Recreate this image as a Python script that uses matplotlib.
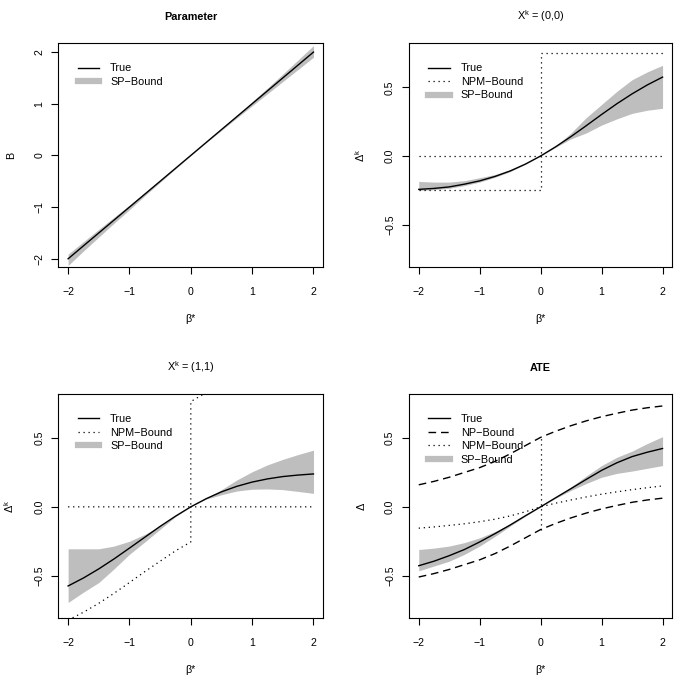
import matplotlib
matplotlib.use("Agg")
import matplotlib.pyplot as plt
from matplotlib.lines import Line2D

plt.rcParams['font.family'] = ['Liberation Sans', 'DejaVu Sans']
plt.rcParams['mathtext.fontset'] = 'custom'
plt.rcParams['mathtext.rm'] = 'Liberation Sans'

# grid of beta* values
beta = [-2, -1.75, -1.5, -1.25, -1, -0.75, -0.5, -0.25, 0,
        0.25, 0.5, 0.75, 1, 1.25, 1.5, 1.75, 2]
beta_neg = beta[:9]
beta_pos = beta[8:]

# panel 1: parameter
par_true = beta
par_sp_lo = [-2.13, -1.85, -1.58, -1.31, -1.05, -0.78, -0.52, -0.26, -0.005,
             0.245, 0.485, 0.725, 0.96, 1.195, 1.43, 1.665, 1.90]
par_sp_hi = [-1.91, -1.67, -1.43, -1.195, -0.96, -0.72, -0.48, -0.24, 0.005,
             0.255, 0.515, 0.775, 1.04, 1.305, 1.575, 1.85, 2.125]

# panel 2: X^k = (0,0)
d00_true = [-0.243, -0.236, -0.225, -0.205, -0.181, -0.149, -0.109, -0.059, 0,
            0.068, 0.142, 0.221, 0.302, 0.380, 0.452, 0.517, 0.574]
d00_sp_lo = [-0.25, -0.245, -0.235, -0.215, -0.19, -0.155, -0.114, -0.06, 0,
             0.064, 0.125, 0.168, 0.225, 0.27, 0.31, 0.333, 0.347]
d00_sp_hi = [-0.185, -0.19, -0.19, -0.18, -0.158, -0.135, -0.1, -0.054, 0,
             0.074, 0.168, 0.28, 0.375, 0.47, 0.555, 0.612, 0.66]
d00_npm_lo_neg = [-0.25] * 9
d00_npm_lo_pos = [0.0] * 9
d00_npm_hi_neg = [0.0] * 9
d00_npm_hi_pos = [0.75] * 9

# panel 3: X^k = (1,1)
d11_true = [-0.575, -0.517, -0.451, -0.378, -0.300, -0.221, -0.142, -0.068, 0,
            0.059, 0.109, 0.149, 0.180, 0.203, 0.220, 0.231, 0.239]
d11_sp_lo = [-0.695, -0.62, -0.55, -0.45, -0.345, -0.255, -0.163, -0.072, 0,
             0.056, 0.088, 0.115, 0.128, 0.13, 0.125, 0.112, 0.098]
d11_sp_hi = [-0.305, -0.305, -0.305, -0.285, -0.25, -0.2, -0.138, -0.065, 0,
             0.063, 0.125, 0.195, 0.255, 0.305, 0.345, 0.38, 0.412]
d11_npm_lo_neg = [-0.823, -0.766, -0.701, -0.628, -0.55, -0.471, -0.395, -0.32, -0.255]
d11_npm_lo_pos = [0.0] * 9
d11_npm_hi_neg = [0.0] * 9
d11_npm_hi_pos_x = [0, 0.25, 0.5]
d11_npm_hi_pos = [0.765, 0.83, 0.88]

# panel 4: ATE
ate_true = [-0.428, -0.395, -0.355, -0.31, -0.255, -0.195, -0.132, -0.065, 0,
            0.067, 0.133, 0.20, 0.265, 0.32, 0.365, 0.397, 0.424]
ate_sp_lo = [-0.465, -0.43, -0.395, -0.345, -0.285, -0.215, -0.14, -0.068, 0,
             0.063, 0.12, 0.17, 0.215, 0.243, 0.26, 0.28, 0.30]
ate_sp_hi = [-0.31, -0.30, -0.285, -0.26, -0.225, -0.18, -0.125, -0.062, 0,
             0.07, 0.145, 0.225, 0.30, 0.36, 0.405, 0.46, 0.51]
ate_np_hi = [0.16, 0.185, 0.215, 0.25, 0.285, 0.33, 0.385, 0.445, 0.505,
             0.55, 0.59, 0.625, 0.655, 0.68, 0.703, 0.72, 0.733]
ate_np_lo = [-0.51, -0.485, -0.455, -0.42, -0.385, -0.34, -0.285, -0.225, -0.165,
             -0.12, -0.08, -0.045, -0.015, 0.01, 0.033, 0.05, 0.063]
ate_npm_hi_neg = [-0.155, -0.146, -0.135, -0.123, -0.108, -0.09, -0.066, -0.036, 0]
ate_npm_lo_pos = [0, 0.027, 0.05, 0.072, 0.092, 0.109, 0.125, 0.139, 0.152]

W, H = 676, 679
BAND = '#bebebe'
DOT = (0, (1, 3))
DASH = (0, (5.5, 3.5))
FS = 7.8


def box(l, t, r, b):
    return [l / W, (H - b) / H, (r - l) / W, (b - t) / H]


fig = plt.figure(figsize=(W / 100, H / 100), dpi=100)
ax1 = fig.add_axes(box(58.3, 43.3, 323.3, 267.3))
ax2 = fig.add_axes(box(409, 43.3, 672.3, 267.3))
ax3 = fig.add_axes(box(58.3, 394, 323.3, 618.3))
ax4 = fig.add_axes(box(409, 394, 672.3, 618.3))


def style(ax, ylim, yticks, yticklabels, ylab, title, bold):
    ax.set_xlim(-2.16, 2.16)
    ax.set_ylim(*ylim)
    ax.set_xticks([-2, -1, 0, 1, 2])
    ax.set_xticklabels(['\u22122', '\u22121', '0', '1', '2'])
    ax.set_yticks(yticks)
    ax.set_yticklabels(yticklabels, rotation=90, va='center')
    ax.tick_params(direction='out', length=4.7, width=0.8, labelsize=7.6, color='black')
    ax.tick_params(axis='x', pad=9.2)
    ax.tick_params(axis='y', pad=5.4)
    for s in ax.spines.values():
        s.set_linewidth(0.8)
    ax.set_xlabel('\u03b2*', fontsize=FS)
    ax.xaxis.set_label_coords(0.5, -0.207)
    ax.set_ylabel(ylab, fontsize=FS)
    ax.yaxis.set_label_coords(-0.16, 0.5)
    ax.set_title(title, fontsize=FS, fontweight='bold' if bold else 'normal', pad=16.5)


def legend(ax, handles, labels):
    ax.legend(handles, labels, loc='upper left', bbox_to_anchor=(0.073, 0.91),
              frameon=False, fontsize=FS, handlelength=2.0, handletextpad=1.0,
              labelspacing=0.32, borderpad=0, borderaxespad=0)


h_true = Line2D([], [], color='black', lw=1.0)
h_np = Line2D([], [], color='black', lw=1.0, linestyle=DASH)
h_npm = Line2D([], [], color='black', lw=0.9, linestyle=DOT)
h_sp = Line2D([], [], color=BAND, lw=4.5)

d_ticks = [-0.5, 0.0, 0.5]
d_labels = ['\u22120.5', '0.0', '0.5']
d_lim = (-0.81, 0.82)

# panel 1
ax1.fill_between(beta, par_sp_lo, par_sp_hi, color=BAND, lw=0)
ax1.plot(beta, par_true, color='black', lw=1.0)
style(ax1, (-2.165, 2.17), [-2, -1, 0, 1, 2],
      ['\u22122', '\u22121', '0', '1', '2'], 'B', 'Parameter', True)
legend(ax1, [h_true, h_sp], ['True', 'SP\u2212Bound'])

# panel 2
ax2.fill_between(beta, d00_sp_lo, d00_sp_hi, color=BAND, lw=0)
ax2.plot(beta, d00_true, color='black', lw=1.0)
ax2.plot(beta_neg + beta_pos, d00_npm_lo_neg + d00_npm_lo_pos, color='black', lw=0.9, linestyle=DOT)
ax2.plot(beta_neg + beta_pos, d00_npm_hi_neg + d00_npm_hi_pos, color='black', lw=0.9, linestyle=DOT)
style(ax2, d_lim, d_ticks, d_labels, r'$\mathregular{\Delta^k}$',
      r'$\mathregular{X^k}$ = (0,0)', False)
legend(ax2, [h_true, h_npm, h_sp], ['True', 'NPM\u2212Bound', 'SP\u2212Bound'])

# panel 3
ax3.fill_between(beta, d11_sp_lo, d11_sp_hi, color=BAND, lw=0)
ax3.plot(beta, d11_true, color='black', lw=1.0)
ax3.plot(beta_neg + beta_pos, d11_npm_lo_neg + d11_npm_lo_pos, color='black', lw=0.9, linestyle=DOT)
ax3.plot(beta_neg + d11_npm_hi_pos_x, d11_npm_hi_neg + d11_npm_hi_pos, color='black', lw=0.9, linestyle=DOT)
style(ax3, d_lim, d_ticks, d_labels, r'$\mathregular{\Delta^k}$',
      r'$\mathregular{X^k}$ = (1,1)', False)
legend(ax3, [h_true, h_npm, h_sp], ['True', 'NPM\u2212Bound', 'SP\u2212Bound'])

# panel 4
ax4.fill_between(beta, ate_sp_lo, ate_sp_hi, color=BAND, lw=0)
ax4.plot(beta, ate_true, color='black', lw=1.0)
ax4.plot(beta, ate_np_hi, color='black', lw=1.0, linestyle=DASH)
ax4.plot(beta, ate_np_lo, color='black', lw=1.0, linestyle=DASH)
ax4.plot(beta_neg + beta_pos[1:], ate_npm_hi_neg + ate_npm_lo_pos[1:], color='black', lw=0.9, linestyle=DOT)
ax4.plot([0, 0], [ate_np_lo[8], ate_np_hi[8]], color='black', lw=0.9, linestyle=DOT)
style(ax4, d_lim, d_ticks, d_labels, r'$\mathregular{\Delta}$', 'ATE', True)
legend(ax4, [h_true, h_np, h_npm, h_sp], ['True', 'NP\u2212Bound', 'NPM\u2212Bound', 'SP\u2212Bound'])

fig.savefig('out.png', dpi=100)
